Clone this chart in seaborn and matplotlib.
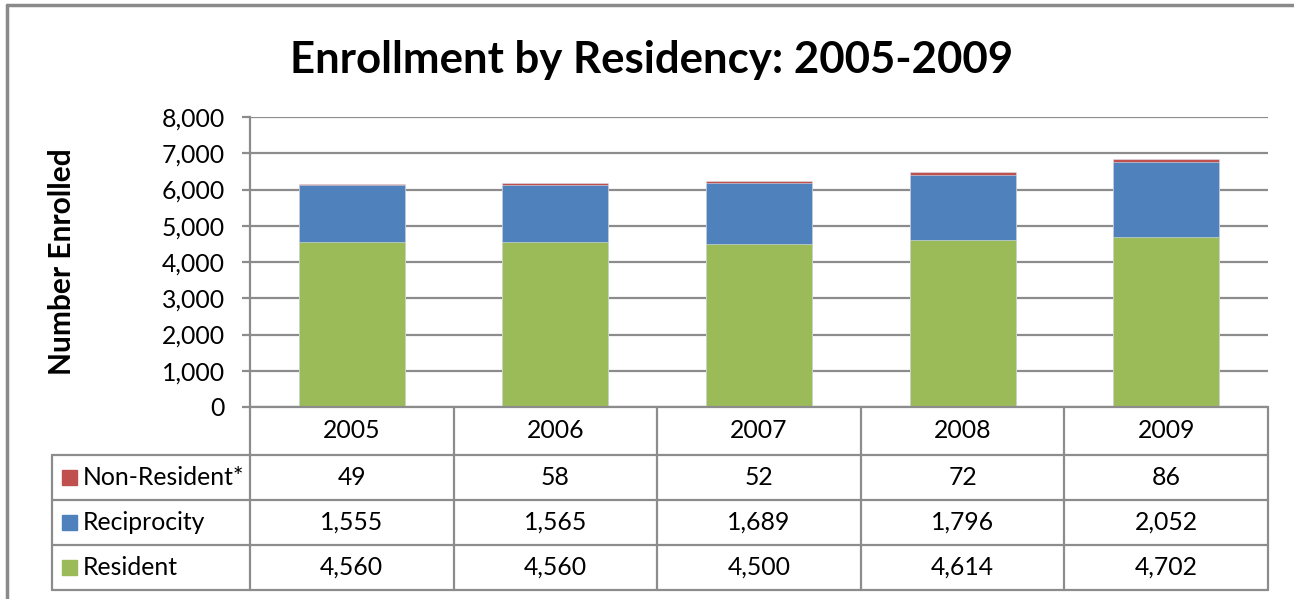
import numpy as np
import pandas as pd
import seaborn as sns
import matplotlib.pyplot as plt
from matplotlib.patches import Rectangle
from matplotlib.lines import Line2D
from matplotlib.ticker import FuncFormatter

# data
years = ["2005", "2006", "2007", "2008", "2009"]
resident = [4560, 4560, 4500, 4614, 4702]
reciprocity = [1555, 1565, 1689, 1796, 2052]
non_resident = [49, 58, 52, 72, 86]
series_names = ["Non-Resident*", "Reciprocity", "Resident"]
colors = {"Resident": "#9BBB59", "Reciprocity": "#4F81BD", "Non-Resident*": "#C0504D"}

sns.set_theme(style="white")
plt.rcParams["font.family"] = ["Lato", "DejaVu Sans"]
plt.rcParams["text.color"] = "black"

W, H = 1294, 599
fig = plt.figure(figsize=(W / 100, H / 100), dpi=100)

def fx(px):
    return px / W

def fy(py):
    return 1 - py / H

grid_col = "#8C8C8C"
txt_size = 17.8

# plot area
left, right, top, bottom = 250, 1268, 117, 407
ax = fig.add_axes([fx(left), fy(bottom), fx(right - left), (bottom - top) / H])

df = pd.DataFrame({"year": years, "Resident": resident,
                   "Reciprocity": reciprocity, "Non-Resident*": non_resident})
df["lvl2"] = df["Resident"] + df["Reciprocity"]
df["lvl3"] = df["lvl2"] + df["Non-Resident*"]

# stacked bars by layering cumulative totals
for col, name in [("lvl3", "Non-Resident*"), ("lvl2", "Reciprocity"), ("Resident", "Resident")]:
    sns.barplot(data=df, x="year", y=col, color=colors[name], width=0.52,
                saturation=1, edgecolor="#DDE3EA", linewidth=0.4, ax=ax, zorder=3)

ax.set_ylim(0, 8000)
ax.set_xlim(-0.5, 4.5)
ax.set_yticks(np.arange(0, 8001, 1000))
ax.yaxis.set_major_formatter(FuncFormatter(lambda v, p: f"{int(v):,}"))
ax.yaxis.grid(True, color=grid_col, linewidth=1.6, zorder=0)
ax.set_axisbelow(True)
ax.set_xticks([])
ax.set_xlabel("")
ax.set_ylabel("")
for s in ["top", "right", "bottom"]:
    ax.spines[s].set_visible(False)
ax.spines["left"].set_color(grid_col)
ax.spines["left"].set_linewidth(1.6)
ax.tick_params(axis="y", left=True, length=6, width=1.6, color=grid_col,
               labelsize=txt_size, pad=12, labelcolor="black")

# title and y label
fig.text(fx(652), fy(60), "Enrollment by Residency: 2005-2009", ha="center", va="center",
         fontsize=31.5, fontweight="bold")
fig.text(fx(62), fy(262), "Number Enrolled", ha="center", va="center", rotation=90,
         fontsize=21.5, fontweight="bold")

# data table
col_x = [left + i * (right - left) / 5 for i in range(6)]
row_y = [407, 455, 500, 545, 590]
lab_x = 52
lines = []
# vertical lines
for i, x in enumerate(col_x):
    lines.append(([x, x], [row_y[0], row_y[-1]]))
lines.append(([lab_x, lab_x], [row_y[1], row_y[-1]]))
# horizontal lines
lines.append(([left, right], [row_y[0], row_y[0]]))
for y in row_y[1:]:
    lines.append(([lab_x, right], [y, y]))
for xs, ys in lines:
    fig.add_artist(Line2D([fx(v) for v in xs], [fy(v) for v in ys], color=grid_col,
                          linewidth=1.6, transform=fig.transFigure))

for i, yr in enumerate(years):
    cx = (col_x[i] + col_x[i + 1]) / 2
    fig.text(fx(cx), fy((row_y[0] + row_y[1]) / 2), yr, ha="center", va="center",
             fontsize=txt_size)

table_vals = {"Non-Resident*": non_resident, "Reciprocity": reciprocity, "Resident": resident}
for r, name in enumerate(series_names):
    cy = (row_y[r + 1] + row_y[r + 2]) / 2
    fig.add_artist(Rectangle((fx(62), fy(cy + 7.5)), 15 / W, 15 / H,
                             color=colors[name], transform=fig.transFigure))
    fig.text(fx(83), fy(cy), name, ha="left", va="center", fontsize=txt_size)
    for i, v in enumerate(table_vals[name]):
        cx = (col_x[i] + col_x[i + 1]) / 2
        fig.text(fx(cx), fy(cy), f"{v:,}", ha="center", va="center", fontsize=txt_size)

# outer chart frame
fig.add_artist(Line2D([fx(7), fx(W)], [fy(5), fy(5)], color="#8A8A8A", linewidth=2.5,
                      transform=fig.transFigure))
fig.add_artist(Line2D([fx(7), fx(7)], [fy(5), fy(H)], color="#8A8A8A", linewidth=2.5,
                      transform=fig.transFigure))

fig.savefig("out.png", dpi=100)
